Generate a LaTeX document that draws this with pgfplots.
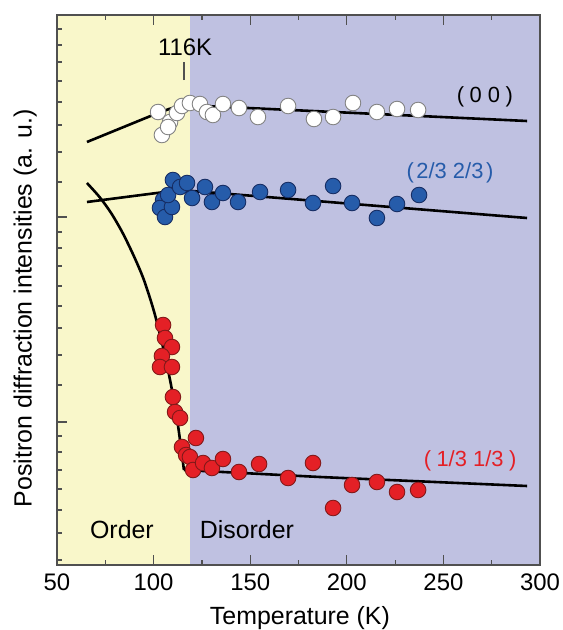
\documentclass[border=0pt]{standalone}
\usepackage{fontspec}
\setmainfont{Liberation Sans}
\usepackage{pgfplots}
\pgfplotsset{compat=1.18}

\definecolor{ordery}{RGB}{249,247,202}
\definecolor{disb}{RGB}{191,193,225}
\definecolor{ptred}{RGB}{228,32,38}
\definecolor{ptredE}{RGB}{130,25,25}
\definecolor{ptblue}{RGB}{38,92,170}
\definecolor{ptblueE}{RGB}{22,45,100}
\definecolor{ptwhiteE}{RGB}{130,130,130}
\definecolor{axgray}{RGB}{80,80,80}

\begin{document}
\begin{tikzpicture}
\useasboundingbox (-57bp,-65bp) rectangle (506bp,565bp);
\begin{axis}[
    at={(0,0)}, anchor=south west,
    scale only axis, width=483bp, height=550bp,
    xmin=50, xmax=300, ymin=0, ymax=550,
    xtick={50,100,...,300}, minor xtick={75,125,...,275},
    ytick={143,348}, yticklabels={},
    minor ytick={5,32,55,76,95,113,129,180,210,237,259,279,299,317,333,383,413,440,463,484,503,520,536},
    ytick pos=left,
    tick align=inside,
    major tick length=10bp, minor tick length=5bp,
    every tick/.style={axgray, line width=1.2bp},
    every minor tick/.style={axgray, line width=1.2bp},
    axis line style={axgray, line width=1.8bp},
    axis on top,
    ticklabel style={font=\fontsize{24}{28}\selectfont},
    xticklabel style={yshift=-5bp},
    /pgf/number format/assume math mode=true,
    label style={font=\fontsize{25}{30}\selectfont},
    xlabel={Temperature (K)},
    ylabel={Positron diffraction intensities (a. u.)},
    xlabel style={at={(axis description cs:0.503,-0.097)}, anchor=center},
    ylabel style={at={(axis description cs:-0.066,0.467)}, anchor=center},
    clip=false,
]
% ordered / disordered regions
\addplot[fill=ordery, draw=none] coordinates {(50,0) (118.8,0) (118.8,550) (50,550)} -- cycle;
\addplot[fill=disb, draw=none] coordinates {(118.8,0) (300,0) (300,550) (118.8,550)} -- cycle;

% (0 0)
\addplot[only marks, mark=*, mark size=7.8bp,
  mark options={fill=white, draw=ptwhiteE, line width=0.9bp}] coordinates {
  (104.3,430) (102.3,453) (108.5,443) (107.5,438) (112.1,452) (114.7,459)
  (118.8,462) (124.0,461) (127.6,453) (130.7,450) (135.9,461) (144.2,457)
  (154.0,448) (169.6,459) (183.0,446) (192.9,448) (203.2,462) (215.6,453)
  (226.0,456) (236.9,455)
};
% (2/3 2/3)
\addplot[only marks, mark=*, mark size=7.8bp,
  mark options={fill=ptblue, draw=ptblueE, line width=0.9bp}] coordinates {
  (110.0,385) (104.9,365) (103.3,357) (105.9,348) (109.5,358) (107.5,370)
  (113.7,378) (117.3,382) (119.9,367) (126.6,378) (130.2,363) (135.9,372)
  (143.7,363) (155.1,373) (169.6,375) (182.5,362) (192.9,379) (202.7,362)
  (215.6,347) (226.0,361) (237.4,370)
};
% (1/3 1/3)
\addplot[only marks, mark=*, mark size=7.8bp,
  mark options={fill=ptred, draw=ptredE, line width=0.9bp}] coordinates {
  (104.9,240) (105.9,227) (109.5,218) (104.3,209) (103.3,198) (109.5,198)
  (110.0,168) (111.1,153) (113.7,147) (114.7,118) (121.9,127) (116.8,110)
  (118.8,108) (120.4,95) (125.6,102) (130.2,97) (135.9,106) (144.2,93)
  (154.6,101) (169.6,87) (182.5,102) (192.9,57) (202.7,80) (215.6,83)
  (226.0,73) (236.9,75)
};

% fitted lines
\addplot[black, line width=2.6bp] coordinates {
  (65.5,423) (99.7,450) (108,456) (115.5,460) (293.3,444)};
\addplot[black, line width=2.6bp] coordinates {
  (65.5,363) (113.7,375) (293.3,347)};
\addplot[black, line width=2.6bp, smooth, tension=0.5] coordinates {
  (65.5,382) (72,368) (78,352) (84,332) (90,308) (95,285) (100,255)
  (104,225) (108,190) (112,148) (115.7,95)};
\addplot[black, line width=2.6bp] coordinates {
  (115.7,95) (186.1,88) (293.3,79)};

% annotations
\draw[axgray, line width=1.3bp] (axis cs:115.7,485) -- (axis cs:115.7,503);
\node[font=\fontsize{24}{28}\selectfont] at (axis cs:116.3,518) {116K};
\node[font=\fontsize{22}{26}\selectfont] at (axis cs:271.5,468) {(\hspace{0.25em}0 0\hspace{0.25em})};
\node[font=\fontsize{22}{26}\selectfont, text=ptblue] at (axis cs:253.4,392) {(\hspace{0.12em}2/3 2/3\hspace{0.12em})};
\node[font=\fontsize{22}{26}\selectfont, text=ptred] at (axis cs:263.8,104) {(\hspace{0.25em}1/3 1/3\hspace{0.25em})};
\node[font=\fontsize{25}{30}\selectfont] at (axis cs:83.6,35) {Order};
\node[font=\fontsize{25}{30}\selectfont] at (axis cs:148.3,35) {Disorder};
\end{axis}
\end{tikzpicture}
\end{document}
